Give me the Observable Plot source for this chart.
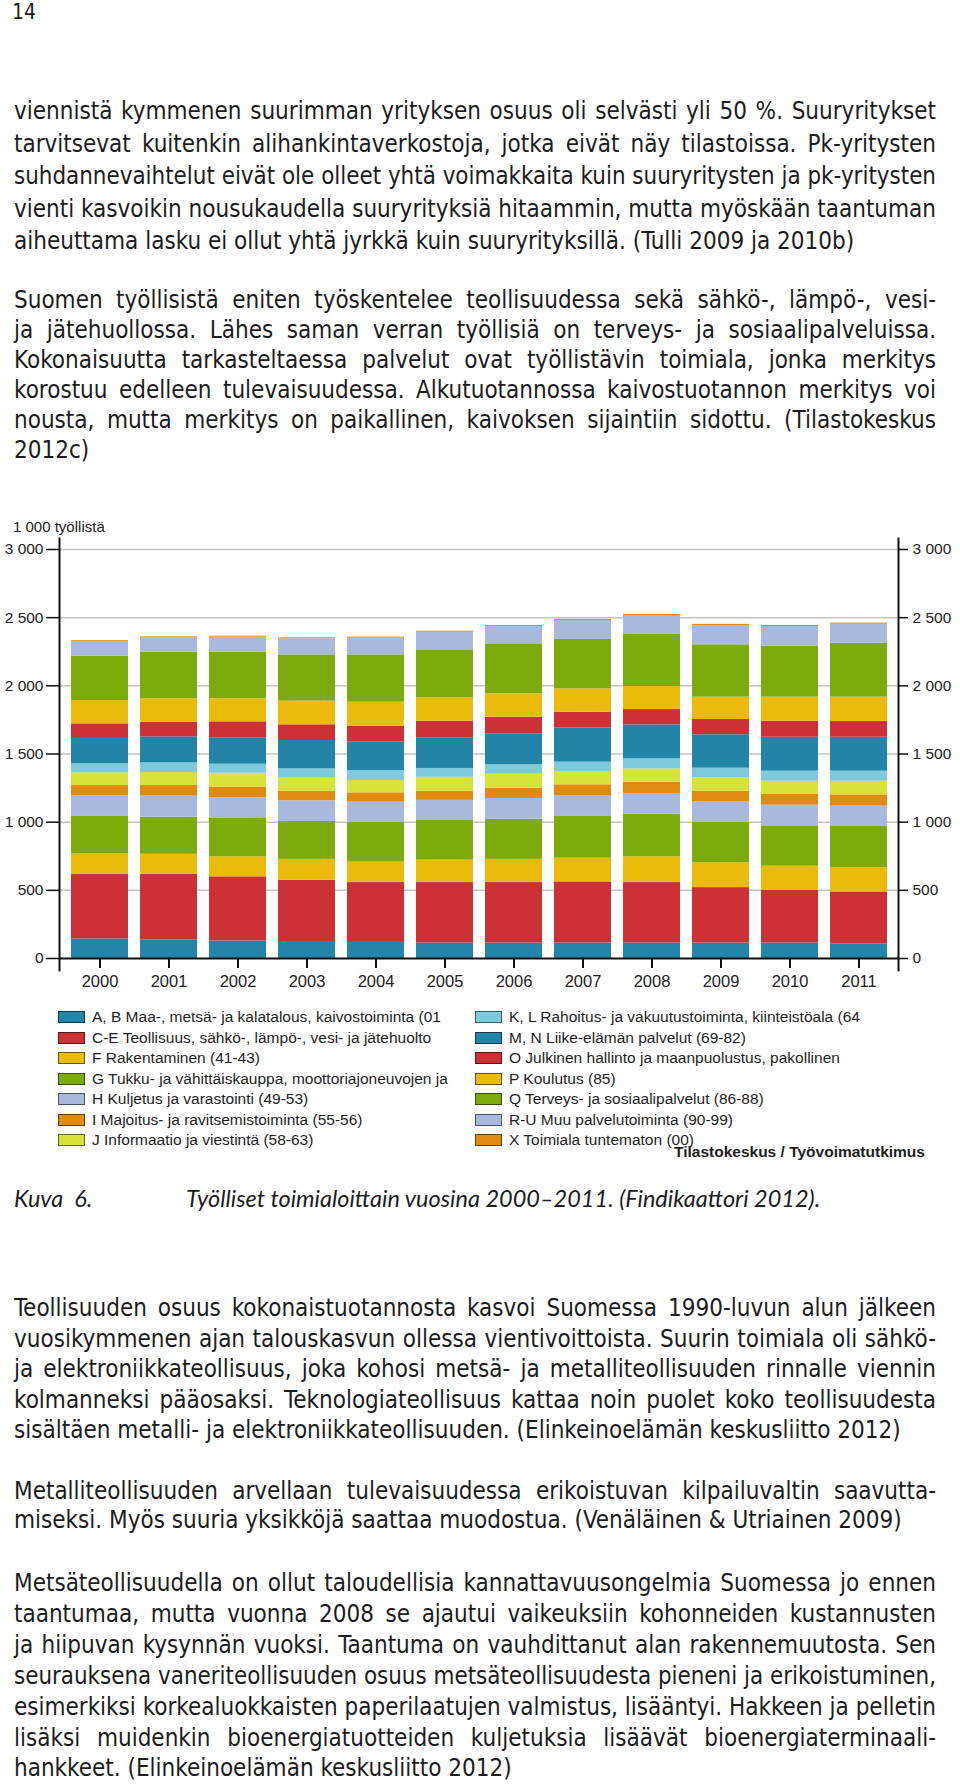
<!DOCTYPE html>
<html><head><meta charset="utf-8">
<script src="https://cdn.jsdelivr.net/npm/d3@7"></script>
<script src="https://cdn.jsdelivr.net/npm/@observablehq/plot@0.6"></script>
<style>
html,body{margin:0;padding:0;background:#fff;}
#page{position:relative;width:960px;height:1786px;overflow:hidden;color:#1c1c1c;
  font-family:"Liberation Sans Narrow","DejaVu Sans Condensed","Roboto",sans-serif;}
.ln{position:absolute;left:14px;width:922px;font-size:24px;line-height:30px;height:30px;white-space:nowrap;}
.ln.just{text-align:justify;text-align-last:justify;}
.ln span{display:inline-block;transform-origin:left center;}
#pnum{position:absolute;left:12px;top:0px;font-size:21px;line-height:24px;}
#chart{position:absolute;left:0;top:510px;}
#ylab{position:absolute;left:13px;top:518px;font:15px "Liberation Sans",Arial,sans-serif;color:#222;}
.leg{position:absolute;font:15.5px "Liberation Sans",Arial,sans-serif;color:#1e1e1e;height:20px;line-height:20px;white-space:nowrap;}
.leg i{position:absolute;left:0;top:4px;width:25px;height:10px;border:1px solid rgba(0,0,0,0.55);}
.leg b{position:absolute;left:34px;top:0;font-weight:normal;}
#src{position:absolute;left:674px;top:1143px;font:bold 15.5px "Liberation Sans",Arial,sans-serif;color:#1e1e1e;}
.cap{position:absolute;top:1183px;font-family:Lato,"Open Sans",sans-serif;font-style:italic;font-size:23.5px;line-height:30px;white-space:nowrap;}
</style></head>
<body><div id="page">
<div id="pnum">14</div>
<div id="ylab">1 000 työllistä</div>
<div id="chart"></div>
<div id="legend"></div>
<div id="src">Tilastokeskus / Työvoimatutkimus</div>
<div class="cap" style="left:14px">Kuva&nbsp; 6.</div>
<div class="cap" style="left:186px">Työlliset toimialoittain vuosina 2000–2011. (Findikaattori 2012).</div>
<div id="text"></div>
</div>
<script>
// ---------- chart data (1 000 employed) ----------
const years = [2000, 2001, 2002, 2003, 2004, 2005, 2006, 2007, 2008, 2009, 2010, 2011];
const seriesNames = [
  "A, B Maa-, metsä- ja kalatalous, kaivostoiminta (01",
  "C-E Teollisuus, sähkö-, lämpö-, vesi- ja jätehuolto",
  "F Rakentaminen (41-43)",
  "G Tukku- ja vähittäiskauppa, moottoriajoneuvojen ja",
  "H Kuljetus ja varastointi (49-53)",
  "I Majoitus- ja ravitsemistoiminta (55-56)",
  "J Informaatio ja viestintä (58-63)",
  "K, L Rahoitus- ja vakuutustoiminta, kiinteistöala (64",
  "M, N Liike-elämän palvelut (69-82)",
  "O Julkinen hallinto ja maanpuolustus, pakollinen",
  "P Koulutus (85)",
  "Q Terveys- ja sosiaalipalvelut (86-88)",
  "R-U Muu palvelutoiminta (90-99)",
  "X Toimiala tuntematon (00)"
];
const seriesColors = ["#2385a9","#cc3235","#eabb0b","#7eab0c","#a8b9dd","#e08a10","#d5e33b",
                      "#7ccadb","#2284a7","#cc3235","#eabb0b","#7eab0c","#a8b9dd","#e08a10"];
const AB = [143, 135, 128, 118, 118, 113, 113, 113, 113, 113, 113, 106];
const CE = [473, 481, 471, 456, 439, 444, 444, 449, 444, 407, 387, 382];
const F  = [150, 148, 147, 153, 150, 165, 170, 174, 189, 182, 177, 179];
const G  = [276, 273, 281, 278, 291, 295, 295, 306, 313, 296, 296, 301];
const H  = [151, 155, 151, 152, 149, 143, 152, 150, 151, 150, 152, 150];
const I  = [76, 77, 79, 70, 68, 67, 75, 82, 83, 79, 78, 82];
const J  = [93, 95, 102, 96, 91, 103, 103, 98, 98, 98, 98, 101];
const KL = [66, 71, 66, 68, 73, 64, 69, 68, 74, 71, 73, 73];
const MN = [186, 191, 194, 208, 208, 222, 227, 250, 249, 245, 249, 249];
const O  = [107, 107, 117, 115, 117, 125, 122, 117, 112, 112, 118, 115];
const P  = [171, 172, 169, 174, 176, 171, 171, 171, 169, 164, 176, 179];
const Q  = [326, 342, 342, 339, 347, 352, 367, 362, 382, 384, 374, 396];
const RU = [107, 105, 110, 118, 123, 130, 127, 139, 139, 142, 144, 139];
const X  = [6, 7, 7, 7, 7, 7, 7, 8, 8, 8, 8, 8];
const yTicks = [0, 500, 1000, 1500, 2000, 2500, 3000];

const seriesValues = [AB, CE, F, G, H, I, J, KL, MN, O, P, Q, RU, X];
const data = [];
years.forEach((yr, i) => seriesNames.forEach((s, k) =>
  data.push({year: String(yr), series: s, value: seriesValues[k][i]})));

const fmt = d => d3.format(",")(d).replace(/,/g, " ");
const axisFont = {fontFamily: '"Liberation Sans", Arial, sans-serif', fontSize: "15.5px", color: "#222", overflow: "visible", background: "transparent"};

const chart = Plot.plot({
  width: 960, height: 490,
  marginTop: 39, marginBottom: 42, marginLeft: 59, marginRight: 62,
  style: axisFont,
  x: {domain: years.map(String), padding: 0, label: null},
  y: {domain: [0, 3000], label: null},
  color: {domain: seriesNames, range: seriesColors},
  marks: [
    Plot.gridY(yTicks.slice(1), {stroke: "#c4c4c4", strokeOpacity: 1, strokeWidth: 1.5}),
    Plot.barY(data, {x: "year", y: "value", fill: "series", insetLeft: 6, insetRight: 6}),
    Plot.ruleY([0], {stroke: "#111", strokeWidth: 2}),
    Plot.frame({anchor: "left", stroke: "#111", strokeWidth: 2, insetTop: -11, insetBottom: -12}),
    Plot.frame({anchor: "right", stroke: "#111", strokeWidth: 2, insetTop: -11, insetBottom: -12}),
    Plot.axisY(yTicks, {anchor: "left", tickSize: 13, tickPadding: 3, tickFormat: fmt, strokeWidth: 1.5, stroke: "#111", label: null}),
    Plot.axisY(yTicks, {anchor: "right", tickSize: 9, tickPadding: 5, tickFormat: fmt, strokeWidth: 1.5, stroke: "#111", label: null}),
    Plot.axisX({anchor: "bottom", tickSize: 10, tickPadding: 7, strokeWidth: 2, stroke: "#111", fontSize: 16.5, label: null})
  ]
});
document.getElementById("chart").appendChild(chart);

// ---------- legend ----------
const legend = document.getElementById("legend");
seriesNames.forEach((s, k) => {
  const col = k < 7 ? 0 : 1, row = k % 7;
  const d = document.createElement("div");
  d.className = "leg";
  d.style.left = (col ? 475 : 58) + "px";
  d.style.top = (1007 + row * 20.5) + "px";
  d.innerHTML = `<i style="background:${seriesColors[k]}"></i><b></b>`;
  d.querySelector("b").textContent = s;
  legend.appendChild(d);
});

// ---------- body text ----------
const paragraphs = [
  {top: 111, step: 32.5, lines: [
    "viennistä kymmenen suurimman yrityksen osuus oli selvästi yli 50 %. Suuryritykset",
    "tarvitsevat kuitenkin alihankintaverkostoja, jotka eivät näy tilastoissa. Pk-yritysten",
    "suhdannevaihtelut eivät ole olleet yhtä voimakkaita kuin suuryritysten ja pk-yritysten",
    "vienti kasvoikin nousukaudella suuryrityksiä hitaammin, mutta myöskään taantuman",
    "aiheuttama lasku ei ollut yhtä jyrkkä kuin suuryrityksillä. (Tulli 2009 ja 2010b)"]},
  {top: 300, step: 30, lines: [
    "Suomen työllisistä eniten työskentelee teollisuudessa sekä sähkö-, lämpö-, vesi-",
    "ja jätehuollossa. Lähes saman verran työllisiä on terveys- ja sosiaalipalveluissa.",
    "Kokonaisuutta tarkasteltaessa palvelut ovat työllistävin toimiala, jonka merkitys",
    "korostuu edelleen tulevaisuudessa. Alkutuotannossa kaivostuotannon merkitys voi",
    "nousta, mutta merkitys on paikallinen, kaivoksen sijaintiin sidottu. (Tilastokeskus",
    "2012c)"]},
  {top: 1308, step: 30.6, lines: [
    "Teollisuuden osuus kokonaistuotannosta kasvoi Suomessa 1990-luvun alun jälkeen",
    "vuosikymmenen ajan talouskasvun ollessa vientivoittoista. Suurin toimiala oli sähkö-",
    "ja elektroniikkateollisuus, joka kohosi metsä- ja metalliteollisuuden rinnalle viennin",
    "kolmanneksi pääosaksi. Teknologiateollisuus kattaa noin puolet koko teollisuudesta",
    "sisältäen metalli- ja elektroniikkateollisuuden. (Elinkeinoelämän keskusliitto 2012)"]},
  {top: 1491, step: 29, lines: [
    "Metalliteollisuuden arvellaan tulevaisuudessa erikoistuvan kilpailuvaltin saavutta-",
    "miseksi. Myös suuria yksikköjä saattaa muodostua. (Venäläinen & Utriainen 2009)"]},
  {top: 1583, step: 30.9, lines: [
    "Metsäteollisuudella on ollut taloudellisia kannattavuusongelmia Suomessa jo ennen",
    "taantumaa, mutta vuonna 2008 se ajautui vaikeuksiin kohonneiden kustannusten",
    "ja hiipuvan kysynnän vuoksi. Taantuma on vauhdittanut alan rakennemuutosta. Sen",
    "seurauksena vaneriteollisuuden osuus metsäteollisuudesta pieneni ja erikoistuminen,",
    "esimerkiksi korkealuokkaisten paperilaatujen valmistus, lisääntyi. Hakkeen ja pelletin",
    "lisäksi muidenkin bioenergiatuotteiden kuljetuksia lisäävät bioenergiaterminaali-",
    "hankkeet. (Elinkeinoelämän keskusliitto 2012)"]}
];
const textBox = document.getElementById("text");
paragraphs.forEach(p => {
  p.lines.forEach((t, i) => {
    const d = document.createElement("div");
    d.className = "ln";
    d.style.top = (p.top + i * p.step - 15) + "px";
    const s = document.createElement("span");
    s.textContent = t;
    d.appendChild(s);
    textBox.appendChild(d);
    const w = s.getBoundingClientRect().width;
    const last = i === p.lines.length - 1;
    if (w > 922) {
      s.style.transform = `scaleX(${922 / w})`;
    } else if (!last) {
      s.style.display = "inline";
      d.classList.add("just");
    }
  });
});
</script>
</body></html>
